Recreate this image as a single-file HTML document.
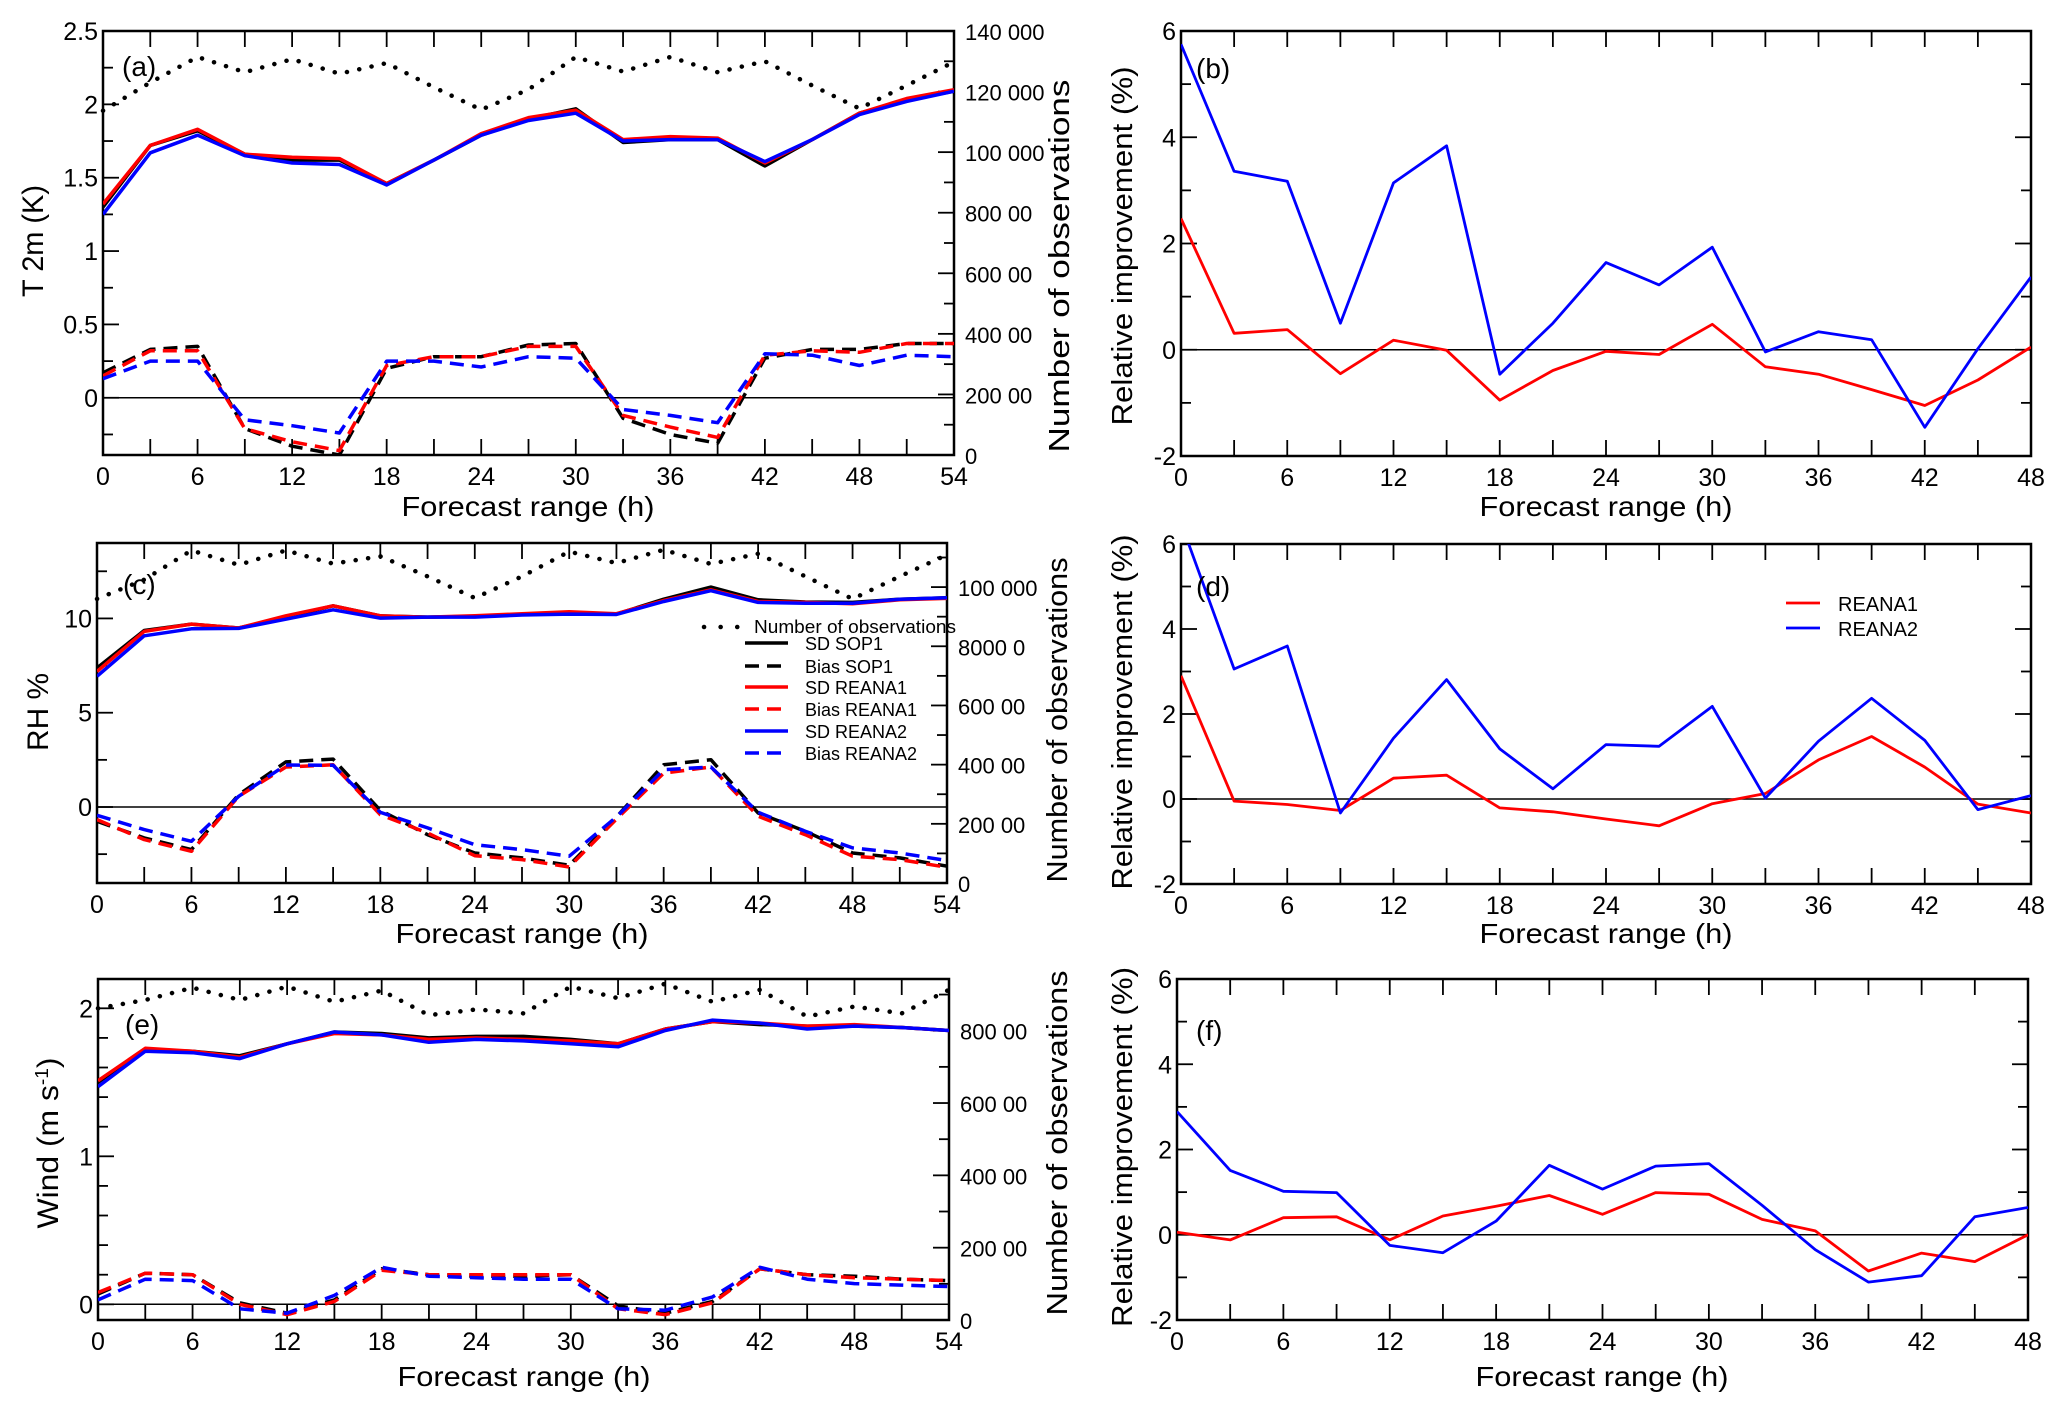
<!DOCTYPE html>
<html><head><meta charset="utf-8"><style>
html,body{margin:0;padding:0;background:#fff}
svg{display:block;font-family:"Liberation Sans",Arial,sans-serif}
</style></head><body>
<svg id="fig" width="2067" height="1408" viewBox="0 0 2067 1408" xmlns="http://www.w3.org/2000/svg"></svg>
<script>
// ---- shared x data ----
const hoursLeft = [0,3,6,9,12,15,18,21,24,27,30,33,36,39,42,45,48,51,54];
const hoursRight = [0,3,6,9,12,15,18,21,24,27,30,33,36,39,42,45,48];
const xTickLabelsLeft = ["0","6","12","18","24","30","36","42","48","54"];
const xTickLabelsRight = ["0","6","12","18","24","30","36","42","48"];

// ---- panel (a) T2m ----
const aSdSop1 = [1.30,1.72,1.82,1.66,1.62,1.62,1.46,1.62,1.79,1.90,1.97,1.74,1.76,1.76,1.58,1.76,1.94,2.03,2.09];
const aSdReana1 = [1.32,1.72,1.83,1.66,1.64,1.63,1.46,1.62,1.80,1.91,1.96,1.76,1.78,1.77,1.60,1.76,1.94,2.04,2.10];
const aSdReana2 = [1.25,1.67,1.79,1.65,1.60,1.59,1.45,1.62,1.79,1.89,1.94,1.75,1.76,1.76,1.61,1.76,1.93,2.02,2.09];
const aBiasSop1 = [0.17,0.33,0.35,-0.21,-0.33,-0.39,0.20,0.28,0.28,0.36,0.37,-0.14,-0.25,-0.31,0.27,0.33,0.33,0.37,0.37];
const aBiasReana1 = [0.15,0.32,0.32,-0.21,-0.30,-0.36,0.22,0.28,0.28,0.35,0.35,-0.12,-0.20,-0.27,0.29,0.32,0.31,0.37,0.37];
const aBiasReana2 = [0.13,0.25,0.25,-0.15,-0.19,-0.24,0.25,0.25,0.21,0.28,0.27,-0.08,-0.12,-0.17,0.30,0.29,0.22,0.29,0.28];
const aObs = [113700,123000,131400,126400,130700,125900,129400,121400,114000,120700,131400,126600,131400,126400,130000,122000,114400,122000,129800];
const aLeftTicks = ["0","0.5","1","1.5","2","2.5"];
const aRightTicks = ["0","200 00","400 00","600 00","800 00","100 000","120 000","140 000"];

// ---- panel (b) ----
const bReana1 = [2.47,0.31,0.38,-0.45,0.18,-0.01,-0.95,-0.39,-0.03,-0.09,0.48,-0.32,-0.46,-0.75,-1.05,-0.57,0.05];
const bReana2 = [5.75,3.36,3.17,0.50,3.14,3.84,-0.46,0.50,1.64,1.22,1.93,-0.04,0.34,0.19,-1.46,0.02,1.37];

// ---- panel (c) RH ----
const cSdSop1 = [7.37,9.36,9.70,9.49,10.07,10.67,10.14,10.07,10.11,10.21,10.28,10.23,11.02,11.66,10.99,10.87,10.85,11.02,11.10];
const cSdReana1 = [7.19,9.31,9.70,9.49,10.14,10.67,10.14,10.07,10.14,10.25,10.35,10.25,10.95,11.52,10.90,10.85,10.78,10.99,11.06];
const cSdReana2 = [6.93,9.08,9.45,9.47,9.96,10.46,10.02,10.07,10.07,10.18,10.23,10.21,10.90,11.47,10.85,10.81,10.81,11.02,11.10];
const cBiasSop1 = [-0.76,-1.64,-2.26,0.65,2.39,2.54,-0.18,-1.47,-2.44,-2.70,-3.09,-0.53,2.24,2.51,-0.32,-1.29,-2.44,-2.70,-3.14];
const cBiasReana1 = [-0.67,-1.73,-2.35,0.57,2.12,2.24,-0.41,-1.38,-2.58,-2.79,-3.18,-0.64,1.80,2.12,-0.49,-1.47,-2.61,-2.79,-3.20];
const cBiasReana2 = [-0.44,-1.20,-1.82,0.57,2.23,2.21,-0.28,-1.11,-2.00,-2.26,-2.61,-0.53,1.98,2.12,-0.28,-1.29,-2.17,-2.44,-2.84];
const cObs = [96000,102500,112400,107500,112400,107900,110400,103600,96300,103600,112000,108100,112600,107800,111300,103600,96000,103600,110900];
const cLeftTicks = ["0","5","10"];
const cRightTicks = ["0","200 00","400 00","600 00","8000 0","100 000"];

// ---- panel (d) ----
const dReana1 = [2.90,-0.05,-0.13,-0.27,0.49,0.56,-0.21,-0.30,-0.47,-0.63,-0.11,0.13,0.92,1.47,0.75,-0.12,-0.33];
const dReana2 = [6.50,3.06,3.60,-0.33,1.43,2.81,1.18,0.24,1.28,1.24,2.18,0.02,1.36,2.37,1.38,-0.25,0.08];

// ---- panel (e) Wind ----
const eSdSop1 = [1.50,1.72,1.71,1.68,1.76,1.84,1.83,1.80,1.81,1.81,1.79,1.76,1.86,1.91,1.89,1.88,1.88,1.87,1.85];
const eSdReana1 = [1.51,1.73,1.71,1.67,1.76,1.83,1.82,1.79,1.80,1.79,1.78,1.76,1.86,1.91,1.90,1.88,1.89,1.87,1.85];
const eSdReana2 = [1.47,1.71,1.70,1.66,1.76,1.84,1.82,1.77,1.79,1.78,1.76,1.74,1.85,1.92,1.90,1.86,1.88,1.87,1.85];
const eBiasSop1 = [0.07,0.21,0.20,0.01,-0.06,0.03,0.24,0.20,0.19,0.19,0.20,-0.01,-0.06,0.02,0.24,0.20,0.19,0.17,0.16];
const eBiasReana1 = [0.08,0.21,0.20,0.00,-0.07,0.02,0.23,0.20,0.20,0.20,0.20,-0.03,-0.07,0.01,0.24,0.20,0.18,0.17,0.16];
const eBiasReana2 = [0.03,0.17,0.16,-0.03,-0.06,0.06,0.25,0.19,0.18,0.17,0.17,-0.03,-0.04,0.05,0.25,0.17,0.14,0.13,0.12];
const eObs = [86200,88500,91900,88500,92200,88000,91100,84300,85900,84800,92200,89000,93000,88000,91300,83900,86700,84800,91300];
const eLeftTicks = ["0","1","2"];
const eRightTicks = ["0","200 00","400 00","600 00","800 00"];

// ---- panel (f) ----
const fReana1 = [0.06,-0.12,0.40,0.42,-0.12,0.44,0.67,0.92,0.48,0.99,0.95,0.36,0.09,-0.85,-0.43,-0.63,0.00];
const fReana2 = [2.89,1.51,1.02,0.99,-0.25,-0.42,0.32,1.63,1.07,1.61,1.67,0.69,-0.35,-1.11,-0.96,0.42,0.64];
const rightPanelTicks = ["-2","0","2","4","6"];

const NS = "http://www.w3.org/2000/svg";
const svg = document.getElementById('fig');
function el(tag, attrs, parent, text){
  const e = document.createElementNS(NS, tag);
  for (const k in attrs) e.setAttribute(k, attrs[k]);
  if (text !== undefined) e.textContent = text;
  (parent||svg).appendChild(e);
  return e;
}
let clipId = 0;
function panel(name, box, xmax, ymin, ymax, yMajorVals, yLabels, yMinorStep, right){
  const g = el('g', {}); 
  
  
  const [L,T,R,B] = box;
  const xs = h => L + (h/xmax)*(R-L);
  const ys = v => B - (v-ymin)/(ymax-ymin)*(B-T);
  const id = 'clip'+(clipId++);
  const cp = el('clipPath', {id:id}, g);
  el('rect', {x:L, y:T, width:R-L, height:B-T}, cp);
  // frame
  const fr = el('rect', {x:L, y:T, width:R-L, height:B-T, fill:'none', stroke:'#000', 'stroke-width':2.5}, g);
  
  
  // x ticks
  for (let h=0; h<=xmax; h+=3){
    const x = xs(h);
    el('line', {x1:x, y1:B, x2:x, y2:B-16, stroke:'#000','stroke-width':1.8}, g);
    el('line', {x1:x, y1:T, x2:x, y2:T+16, stroke:'#000','stroke-width':1.8}, g);
  }
  const labels = xmax===54 ? xTickLabelsLeft : xTickLabelsRight;
  labels.forEach((lab,i)=>{
    const t = el('text', {x:xs(i*6), y:B+30, 'font-size':25, 'text-anchor':'middle'}, g, lab);
    
    
  });
  // y ticks
  const start = Math.ceil(ymin/yMinorStep-1e-9)*yMinorStep;
  for (let v=start; v<=ymax+1e-9; v+=yMinorStep){
    const y = ys(v);
    const major = yMajorVals.some(m=>Math.abs(m-v)<1e-6);
    const len = major?16:10;
    el('line', {x1:L, y1:y, x2:L+len, y2:y, stroke:'#000','stroke-width':1.8}, g);
    if (!right) el('line', {x1:R, y1:y, x2:R-len, y2:y, stroke:'#000','stroke-width':1.8}, g);
  }
  yMajorVals.forEach((v,i)=>{
    const t = el('text', {x:L-5, y:ys(v)+9, 'font-size':25, 'text-anchor':'end'}, g, yLabels[i]);
    
    
  });
  // zero line
  el('line', {x1:L, y1:ys(0), x2:R, y2:ys(0), stroke:'#000','stroke-width':1.5}, g);
  return {g, xs, ys, id, L,T,R,B};
}
function series(p, xvals, vals, color, dash, width, name){
  const pts = vals.map((v,i)=>p.xs(xvals[i]).toFixed(1)+','+p.ys(v).toFixed(1)).join(' ');
  const a = {points:pts, fill:'none', stroke:color, 'stroke-width':width, 'stroke-linejoin':'round', 'clip-path':'url(#'+p.id+')'};
  if (dash) a['stroke-dasharray'] = dash;
  const pl = el('polyline', a, p.g);
  
  
  return pl;
}
function obsSeries(p, vals, omax, name){
  const pts = vals.map((v,i)=>p.xs(hoursLeft[i]).toFixed(1)+','+(p.B-(v/omax)*(p.B-p.T)).toFixed(1)).join(' ');
  const pl = el('polyline', {points:pts, fill:'none', stroke:'#000','stroke-width':4.5,'stroke-dasharray':'0.1 12.5','stroke-linecap':'round'}, p.g);
  
  
}
function rightAxis(p, omax, labels, step){
  for (let v=0; v<=omax+1; v+=10000){
    const y = p.B-(v/omax)*(p.B-p.T);
    const len = (v%20000===0)?16:10;
    el('line', {x1:p.R, y1:y, x2:p.R-len, y2:y, stroke:'#000','stroke-width':1.8}, p.g);
  }
  labels.forEach((lab,i)=>{
    const y = p.B-(i*20000/omax)*(p.B-p.T);
    const t = el('text', {x:p.R+11, y:y+9, 'font-size':22}, p.g, lab);
    
    
  });
}
function text(x,y,s,size,attrs,name){
  const a = Object.assign({x:x,y:y,'font-size':size}, attrs||{});
  const t = el('text', a, svg, s);
  
  
  return t;
}
function vtitle(cx,cy,s,size,len,name){
  const t = el('text', {x:0,y:0,'font-size':size,'text-anchor':'middle',textLength:len,lengthAdjust:'spacingAndGlyphs',transform:`translate(${cx},${cy}) rotate(-90)`}, svg, s);
  
  
  return t;
}
const DASH = '14 8';
function leftPanel(name, box, ymin, ymax, maj, labs, minor, omax, rlabs, sd1, sdr1, sdr2, b1, br1, br2, obs){
  const p = panel(name, box, 54, ymin, ymax, maj, labs, minor, true);
  rightAxis(p, omax, rlabs);
  obsSeries(p, obs, omax, 'number-of-observations-line');
  series(p, hoursLeft, sd1, '#000', null, 3.5, 'sd-sop1-line');
  series(p, hoursLeft, sdr1, '#f00', null, 3.5, 'sd-reana1-line');
  series(p, hoursLeft, sdr2, '#00f', null, 3.5, 'sd-reana2-line');
  series(p, hoursLeft, b1, '#000', DASH, 3.5, 'bias-sop1-line');
  series(p, hoursLeft, br1, '#f00', DASH, 3.5, 'bias-reana1-line');
  series(p, hoursLeft, br2, '#00f', DASH, 3.5, 'bias-reana2-line');
  return p;
}
function rightPanel(name, box, r1, r2){
  const p = panel(name, box, 48, -2, 6, [-2,0,2,4,6], rightPanelTicks, 1, false);
  series(p, hoursRight, r1, '#f00', null, 2.8, 'reana1-improvement-line');
  series(p, hoursRight, r2, '#00f', null, 2.8, 'reana2-improvement-line');
  return p;
}

// Row 1
leftPanel('panel-a-t2m', [103,31,954,455], -0.39, 2.5, [0,0.5,1,1.5,2,2.5], aLeftTicks, 0.25, 140000, aRightTicks,
  aSdSop1,aSdReana1,aSdReana2,aBiasSop1,aBiasReana1,aBiasReana2,aObs);
rightPanel('panel-b-t2m-improvement', [1181,31,2031,456], bReana1, bReana2);
// Row 2
leftPanel('panel-c-rh', [97,543,947,883], -4.03, 14, [0,5,10], cLeftTicks, 2.5, 114900, cRightTicks,
  cSdSop1,cSdReana1,cSdReana2,cBiasSop1,cBiasReana1,cBiasReana2,cObs);
rightPanel('panel-d-rh-improvement', [1181,544,2031,884], dReana1, dReana2);
// Row 3
leftPanel('panel-e-wind', [98,979,949,1320], -0.106, 2.198, [0,1,2], eLeftTicks, 0.2, 94300, eRightTicks,
  eSdSop1,eSdReana1,eSdReana2,eBiasSop1,eBiasReana1,eBiasReana2,eObs);
rightPanel('panel-f-wind-improvement', [1177,979,2028,1320], fReana1, fReana2);

// Panel letters
text(122,76,'(a)',28,{},'panel-label-a');
text(1196,78,'(b)',28,{},'panel-label-b');
text(123,594,'(c)',28,{},'panel-label-c');
text(1196,596,'(d)',28,{},'panel-label-d');
text(125,1034,'(e)',28,{},'panel-label-e');
text(1196,1040,'(f)',28,{},'panel-label-f');

// X titles
[[528,516],[1606,516],[522,943],[1606,943],[524,1386],[1602,1386]].forEach(([x,y])=>{
  text(x,y,'Forecast range (h)',28,{'text-anchor':'middle',textLength:253,lengthAdjust:'spacingAndGlyphs'},'x-axis-title');
});
// Y titles
vtitle(43,241,'T 2m (K)',30,112,'y-axis-title-t2m');
vtitle(48,712,'RH %',30,78,'y-axis-title-rh');
const wt = vtitle(58,1143,'',30,171,'y-axis-title-wind');
wt.textContent = 'Wind (m s';
const sup = el('tspan', {'baseline-shift':'super','font-size':18}, wt, '-1');
el('tspan', {}, wt, ')');
vtitle(1069,266,'Number of observations',29,373,'right-y-axis-title');
vtitle(1067,720,'Number of observations',29,325,'right-y-axis-title');
vtitle(1067,1143,'Number of observations',29,345,'right-y-axis-title');
vtitle(1132,246,'Relative improvement (%)',29,359,'y-axis-title-improvement');
vtitle(1132,712,'Relative improvement (%)',29,355,'y-axis-title-improvement');
vtitle(1132,1147,'Relative improvement (%)',29,360,'y-axis-title-improvement');

// Legend (c)
const lg = el('g', {});


el('line',{x1:704,y1:627,x2:738,y2:627,stroke:'#000','stroke-width':4.5,'stroke-dasharray':'0.1 16.5','stroke-linecap':'round'},lg);
el('text',{x:754,y:633,'font-size':18,textLength:202,lengthAdjust:'spacingAndGlyphs'},lg,'Number of observations');
const legRows = [['SD SOP1','#000',null],['Bias SOP1','#000','14 8'],['SD REANA1','#f00',null],['Bias REANA1','#f00','14 8'],['SD REANA2','#00f',null],['Bias REANA2','#00f','14 8']];
const legY = [643,666,687,709,731,753];
legRows.forEach((r,i)=>{
  const a = {x1:745,y1:legY[i],x2:788,y2:legY[i],stroke:r[1],'stroke-width':3.5};
  if (r[2]) a['stroke-dasharray']=r[2];
  const ln = el('line',a,lg);
  
  
  const t = el('text',{x:805,y:legY[i]+7,'font-size':18},lg,r[0]);
  
  
});
// Legend (d)
const lg2 = el('g', {});


el('line',{x1:1786,y1:603,x2:1820,y2:603,stroke:'#f00','stroke-width':2.8},lg2);
el('line',{x1:1786,y1:628,x2:1820,y2:628,stroke:'#00f','stroke-width':2.8},lg2);
el('text',{x:1838,y:611,'font-size':20},lg2,'REANA1');
el('text',{x:1838,y:636,'font-size':20},lg2,'REANA2');
</script>
</body></html>
